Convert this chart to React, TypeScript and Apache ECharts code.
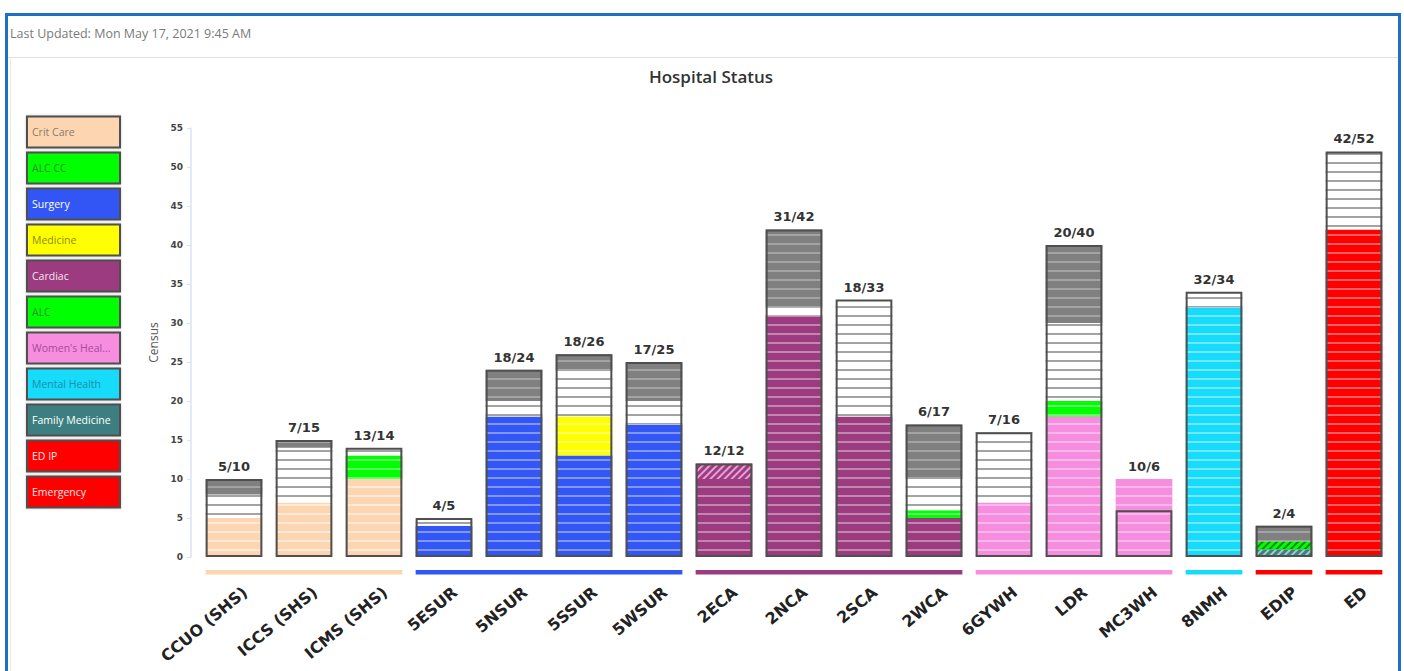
import React, { useEffect, useRef } from "react";
import * as echarts from "echarts";

// ---------- data ----------
const UNITS = ["CCUO (SHS)", "ICCS (SHS)", "ICMS (SHS)", "5ESUR", "5NSUR", "5SSUR", "5WSUR", "2ECA", "2NCA", "2SCA", "2WCA", "6GYWH", "LDR", "MC3WH", "8NMH", "EDIP", "ED"];
const CENSUS = [5, 7, 13, 4, 18, 18, 17, 12, 31, 18, 6, 7, 20, 10, 32, 2, 42];
const CAPACITY = [10, 15, 14, 5, 24, 26, 25, 12, 42, 33, 17, 16, 40, 6, 34, 4, 52];

const CRIT_CARE = [5, 7, 10, 0, 0, 0, 0, 0, 0, 0, 0, 0, 0, 0, 0, 0, 0];
const SURGERY = [0, 0, 0, 4, 18, 13, 17, 0, 0, 0, 0, 0, 0, 0, 0, 0, 0];
const CARDIAC = [0, 0, 0, 0, 0, 0, 0, 10, 31, 18, 5, 0, 0, 0, 0, 0, 0];
const WOMENS = [0, 0, 0, 0, 0, 0, 0, 0, 0, 0, 0, 7, 18, 10, 0, 0, 0];
const MENTAL = [0, 0, 0, 0, 0, 0, 0, 0, 0, 0, 0, 0, 0, 0, 32, 0, 0];
const FAM_MED_HATCH = [0, 0, 0, 0, 0, 0, 0, 0, 0, 0, 0, 0, 0, 0, 0, 1, 0];
const EMERGENCY = [0, 0, 0, 0, 0, 0, 0, 0, 0, 0, 0, 0, 0, 0, 0, 0, 42];
const ALC_CC = [0, 0, 3, 0, 0, 0, 0, 0, 0, 0, 0, 0, 0, 0, 0, 0, 0];
const MEDICINE = [0, 0, 0, 0, 0, 5, 0, 0, 0, 0, 0, 0, 0, 0, 0, 0, 0];
const ALC = [0, 0, 0, 0, 0, 0, 0, 0, 0, 0, 1, 0, 2, 0, 0, 0, 0];
const CARDIAC_HATCH = [0, 0, 0, 0, 0, 0, 0, 2, 0, 0, 0, 0, 0, 0, 0, 0, 0];
const ALC_HATCH = [0, 0, 0, 0, 0, 0, 0, 0, 0, 0, 0, 0, 0, 0, 0, 1, 0];
const AVAILABLE = [3, 7, 1, 1, 2, 6, 3, 0, 1, 15, 4, 9, 10, 0, 2, 0, 10];
const CLOSED = [2, 1, 0, 0, 4, 2, 5, 0, 10, 0, 7, 0, 10, 0, 0, 2, 0];

const GROUP_START = [0, 3, 7, 11, 14, 15, 16];
const GROUP_END = [2, 6, 10, 13, 14, 15, 16];
const GROUP_COLORS = ["#fdd5b1", "#3357f6", "#9c3b80", "#f68ddf", "#16dbfb", "#ff0000", "#ff0000"];

const LEGEND_NAMES = ["Crit Care", "ALC CC", "Surgery", "Medicine", "Cardiac", "ALC", "Women's Heal...", "Mental Health", "Family Medicine", "ED IP", "Emergency"];
const LEGEND_FILL = ["#fdd5b1", "#00ff00", "#3357f6", "#ffff00", "#9c3b80", "#00ff00", "#f68ddf", "#16dbfb", "#3e7f80", "#ff0000", "#ff0000"];
const LEGEND_TEXT = ["#8a7a6c", "#2f8f2f", "#ffffff", "#8a8a00", "#f6e6f2", "#2f8f2f", "#a64a9c", "#1a8ea8", "#ffffff", "#ffe6e6", "#ffe6e6"];

const Y_MAX = 55;
const Y_STEP = 5;

export default function App() {
  const ref = useRef<HTMLDivElement>(null);

  useEffect(() => {
    const chart = echarts.init(ref.current!, null, { renderer: "svg" });

    const stripe = (color: string, w = 1.4) => ({
      symbol: "rect",
      symbolSize: 1,
      dashArrayX: [1, 0],
      dashArrayY: [w, 7.8 - w],
      rotation: 0,
      color,
    });
    const hatch = (color: string) => ({
      symbol: "rect",
      symbolSize: 1,
      dashArrayX: [1, 0],
      dashArrayY: [2, 3],
      rotation: -Math.PI / 4,
      color,
    });

    const seg = (name: string, data: number[], color: string, decal: any) => ({
      name,
      type: "bar",
      stack: "unit",
      data,
      barWidth: "81%",
      barGap: "-100%",
      silent: true,
      itemStyle: { color, decal },
    });

    const lightStripe = stripe("rgba(255,255,255,0.38)", 1.2);

    const series: any[] = [
      seg("Crit Care", CRIT_CARE, "#fdd5b1", stripe("rgba(255,255,255,0.5)", 1.2)),
      seg("Surgery", SURGERY, "#3357f6", lightStripe),
      seg("Cardiac", CARDIAC, "#9c3b80", lightStripe),
      seg("Women's Health", WOMENS, "#f68ddf", lightStripe),
      seg("Mental Health", MENTAL, "#16dbfb", lightStripe),
      seg("Family Medicine (hold)", FAM_MED_HATCH, "#3e7f80", hatch("rgba(200,235,235,0.7)")),
      seg("Emergency", EMERGENCY, "#ff0000", lightStripe),
      seg("ALC CC", ALC_CC, "#00ff00", lightStripe),
      seg("Medicine", MEDICINE, "#ffff00", lightStripe),
      seg("ALC", ALC, "#00ff00", lightStripe),
      seg("Cardiac (hold)", CARDIAC_HATCH, "#9c3b80", hatch("rgba(255,190,235,0.75)")),
      seg("ALC (hold)", ALC_HATCH, "#00ff00", hatch("rgba(20,90,20,0.7)")),
      seg("Available", AVAILABLE, "#ffffff", stripe("#a3a3a3", 1.6)),
      seg("Closed", CLOSED, "#808080", stripe("rgba(255,255,255,0.28)", 1.6)),
      {
        name: "Capacity",
        type: "bar",
        data: CAPACITY,
        barWidth: "81%",
        barGap: "-100%",
        silent: true,
        z: 4,
        itemStyle: { color: "rgba(0,0,0,0)", borderColor: "#4f4f4f", borderWidth: 2 },
      },
      {
        name: "Labels",
        type: "bar",
        data: CENSUS.map((c, i) => Math.max(c, CAPACITY[i])),
        barWidth: "81%",
        barGap: "-100%",
        silent: true,
        z: 5,
        itemStyle: { color: "rgba(0,0,0,0)" },
        label: {
          show: true,
          position: "top",
          distance: 6,
          formatter: (p: any) => `${CENSUS[p.dataIndex]}/${CAPACITY[p.dataIndex]}`,
          fontSize: 13,
          fontWeight: "bold",
          fontFamily: "DejaVu Sans",
          color: "#333",
        },
      },
      {
        name: "Groups",
        type: "custom",
        clip: false,
        silent: true,
        data: GROUP_START.map((s, k) => [s, GROUP_END[k]]),
        renderItem: (params: any, api: any) => {
          const s = api.value(0);
          const e = api.value(1);
          const p0 = api.coord([s, 0]);
          const p1 = api.coord([e, 0]);
          const band = api.size([1, 0])[0];
          const half = band * 0.405;
          return {
            type: "rect",
            shape: { x: p0[0] - half, y: p0[1] + 13, width: p1[0] - p0[0] + 2 * half, height: 4.5 },
            style: { fill: GROUP_COLORS[params.dataIndex] },
          };
        },
      },
      {
        name: "UnitLabels",
        type: "custom",
        clip: false,
        silent: true,
        data: UNITS.map((_, i) => [i, 0]),
        renderItem: (params: any, api: any) => {
          const i = api.value(0);
          const p = api.coord([i, 0]);
          return {
            type: "text",
            x: p[0] + 11,
            y: p[1] + 33,
            rotation: (40 * Math.PI) / 180,
            style: {
              text: UNITS[i],
              align: "right",
              verticalAlign: "middle",
              fontSize: 16,
              fontWeight: "bold",
              fontFamily: "DejaVu Sans",
              fill: "#222",
            },
          };
        },
      },
    ];

    const graphic: any[] = [
      {
        type: "line",
        shape: { x1: 8, y1: 57.5, x2: 1398, y2: 57.5 },
        style: { stroke: "#e2e2e2", lineWidth: 1 },
        silent: true,
      },
      {
        type: "line",
        shape: { x1: 10.5, y1: 57.5, x2: 10.5, y2: 671 },
        style: { stroke: "#e8e8e8", lineWidth: 1 },
        silent: true,
      },
      {
        type: "rect",
        shape: { x: 6.5, y: 14.5, width: 1393, height: 700 },
        style: { fill: "none", stroke: "#1d70c4", lineWidth: 3 },
        silent: true,
        z: 100,
      },
      ...LEGEND_NAMES.map((name, i) => ({
        type: "group",
        silent: true,
        children: [
          {
            type: "rect",
            shape: { x: 27, y: 116.5 + 36 * i, width: 93, height: 31 },
            style: {
              fill: LEGEND_FILL[i],
              stroke: "#4f4f4f",
              lineWidth: 2,
              shadowBlur: 2,
              shadowColor: "rgba(0,0,0,0.25)",
            },
          },
          {
            type: "text",
            x: 32,
            y: 132 + 36 * i,
            style: {
              text: name,
              fill: LEGEND_TEXT[i],
              fontSize: 10.5,
              fontFamily: "Open Sans",
              verticalAlign: "middle",
              align: "left",
            },
          },
        ],
      })),
    ];

    chart.setOption({
      animation: false,
      backgroundColor: "#ffffff",
      title: [
        {
          text: "Hospital Status",
          left: 711,
          top: 68,
          padding: 0,
          textAlign: "center",
          textStyle: { fontSize: 17, fontWeight: 600, color: "#333", fontFamily: "Open Sans" },
        },
        {
          text: "Last Updated: Mon May 17, 2021 9:45 AM",
          left: 10,
          top: 27,
          padding: 0,
          textStyle: { fontSize: 12.5, fontWeight: "normal", color: "#7a7a7a", fontFamily: "Open Sans" },
        },
      ],
      grid: { left: 199, right: 15, top: 128, bottom: 114, containLabel: false },
      xAxis: {
        type: "category",
        data: UNITS,
        axisLine: { show: false },
        axisTick: { show: false },
        axisLabel: { show: false },
        splitLine: { show: false },
      },
      yAxis: {
        type: "value",
        min: 0,
        max: Y_MAX,
        interval: Y_STEP,
        offset: 8,
        name: "Census",
        nameLocation: "middle",
        nameGap: 28,
        nameTextStyle: { fontSize: 12, color: "#555", fontFamily: "Open Sans" },
        axisLine: { show: true, lineStyle: { color: "#d6e4f4", width: 1.5 } },
        axisTick: { show: true, length: 4, lineStyle: { color: "#d6e4f4" } },
        axisLabel: { fontSize: 9, fontWeight: "bold", color: "#444", fontFamily: "DejaVu Sans", margin: 8 },
        splitLine: { show: false },
      },
      series,
      graphic,
    });

    return () => chart.dispose();
  }, []);

  return (
    <div
      ref={ref}
      style={{ position: "absolute", left: 0, top: 0, width: 1404, height: 671, background: "#fff" }}
    />
  );
}
